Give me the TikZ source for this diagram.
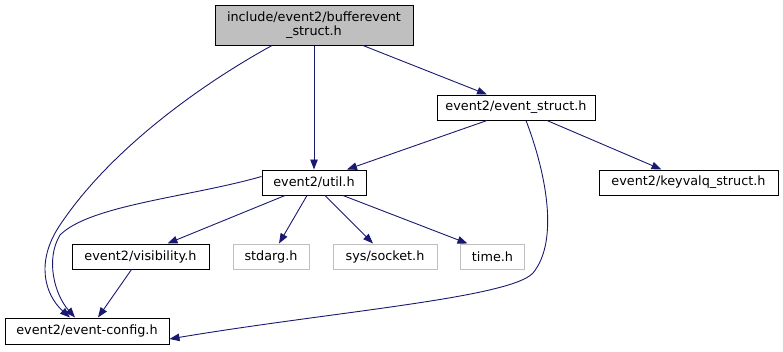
\documentclass[tikz,border=0pt]{standalone}
\usepackage{fontspec}
\setmainfont{DejaVu Sans}
\usetikzlibrary{arrows.meta,calc}
\definecolor{edgeblue}{HTML}{191970}
\definecolor{rootfill}{HTML}{BFBFBF}
\definecolor{extgray}{HTML}{BFBFBF}
\tikzset{
  filebox/.style={draw=black, line width=1pt, inner sep=0pt, align=center,
    font=\fontsize{12.8}{14.5}\selectfont, minimum height=25pt},
  rootbox/.style={filebox, fill=rootfill, minimum height=40pt},
  extbox/.style={filebox, draw=extgray},
  dep/.style={draw=edgeblue, line width=0.9pt, -{Triangle[length=10pt,width=7.5pt,fill=edgeblue]}}
}
\begin{document}
\begin{tikzpicture}[x=1pt,y=-1pt]
\useasboundingbox (0,0) rectangle (783,351);
\node[rootbox, minimum width=198pt] (bs) at (314,25) {include/event2/bufferevent\\\_struct.h};
\node[filebox, minimum width=158pt] (es) at (516,107.5) {event2/event\_struct.h};
\node[filebox, minimum width=104pt] (util) at (314,182.5) {event2/util.h};
\node[filebox, minimum width=179pt] (kv) at (688.5,182.5) {event2/keyvalq\_struct.h};
\node[filebox, minimum width=137pt] (vis) at (140.5,256.5) {event2/visibility.h};
\node[extbox, minimum width=76pt] (stdarg) at (271,256.5) {stdarg.h};
\node[extbox, minimum width=104pt] (sock) at (385,256.5) {sys/socket.h};
\node[extbox, minimum width=64pt] (time) at (492.5,256.5) {time.h};
\node[filebox, minimum width=164pt, minimum height=26pt] (cfg) at (87,331) {event2/event-config.h};

\draw[dep] ([xshift=-42pt]bs.south) .. controls (200,85) and (110,150) .. (60,225)
  .. controls (35,262) and (45,295) .. ([xshift=-17pt]cfg.north);
\draw[dep] (bs.south) -- (util.north);
\draw[dep] ([xshift=49pt]bs.south) -- ([xshift=-29pt]es.north);
\draw[dep] ([xshift=-29pt]es.south) -- ([xshift=33pt]util.north);
\draw[dep] ([xshift=10pt]es.south) .. controls (545,170) and (560,240) .. (533,273)
  .. controls (510,298) and (330,312) .. ([yshift=-8pt]cfg.east);
\draw[dep] ([xshift=31pt]es.south) -- ([xshift=-27pt]kv.north);
\draw[dep] ([yshift=6pt]util.west) .. controls (190,197) and (90,205) .. (60,235)
  .. controls (45,260) and (55,295) .. ([xshift=-12pt]cfg.north);
\draw[dep] ([xshift=-29pt]util.south) -- ([xshift=27pt]vis.north);
\draw[dep] ([xshift=-7pt]util.south) -- ([xshift=8pt]stdarg.north);
\draw[dep] ([xshift=11pt]util.south) -- ([xshift=-12pt]sock.north);
\draw[dep] ([xshift=29pt]util.south) -- ([xshift=-25pt]time.north);
\draw[dep] ([xshift=-9pt]vis.south) -- ([xshift=11pt]cfg.north);
\end{tikzpicture}
\end{document}
